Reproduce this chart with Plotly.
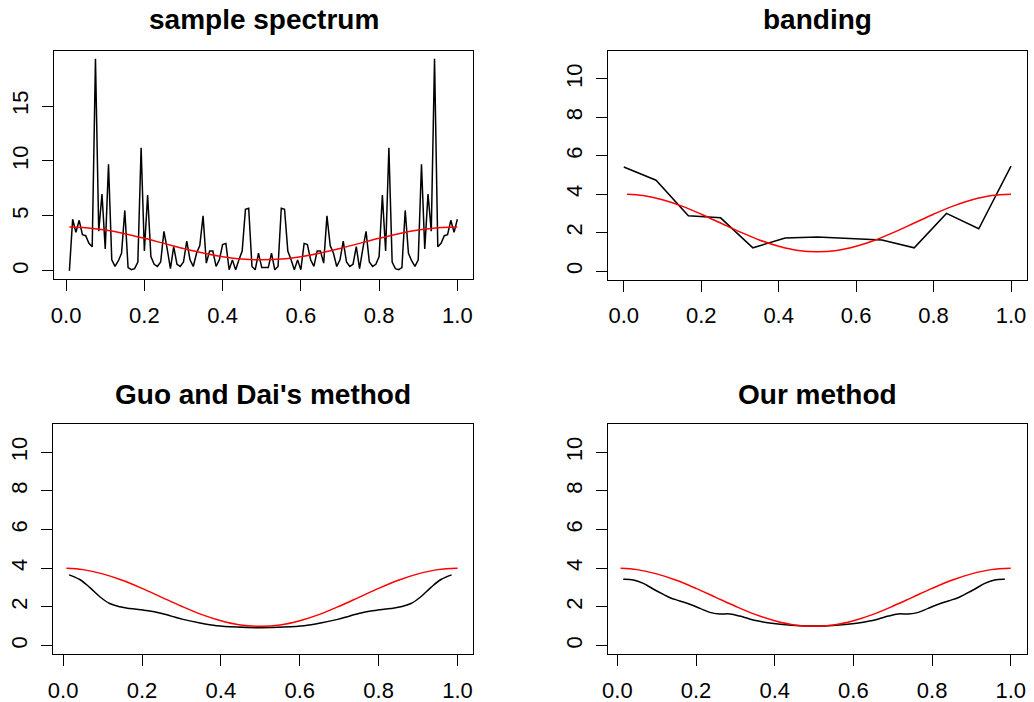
import numpy as np
import plotly.graph_objects as go

W, H = 1034, 702

# ---------------- data ----------------
# sample spectrum (periodogram) at Fourier frequencies k/120, k = 1..120
spec_k = list(range(1, 121))
spec_vals = [0, 4.7, 3.5, 4.6, 3.3, 3.2, 2.5, 2.2, 19.3, 3.6, 7.0, 2.0, 9.7, 1.0, 0.4,
             0.9, 1.6, 5.5, 0.3, 0.1, 0.2, 0.8, 11.2, 1.8, 6.9, 1.3, 0.6, 0.4, 0.8, 3.6,
             2.0, 0.2, 2.2, 0.6, 0.4, 0.8, 2.7, 1.0, 0.4, 1.6, 2.3, 5.0, 0.7, 1.8, 1.8,
             0.4, 1.0, 2.4, 2.5, 0.1, 1.0, 0.1, 1.0, 1.8, 5.6, 5.7, 0.4, 0.1, 1.6, 0.3,
             0.3, 0.3, 1.6, 0.1, 0.4, 5.7, 5.6, 1.8, 1.0, 0.1, 1.0, 0.1, 2.5, 2.4, 1.0,
             0.4, 1.8, 1.8, 0.7, 5.0, 2.3, 1.6, 0.4, 1.0, 2.7, 0.8, 0.4, 0.6, 2.2, 0.2,
             2.0, 3.6, 0.8, 0.4, 0.6, 1.3, 6.9, 1.8, 11.2, 0.8, 0.2, 0.1, 0.3, 5.5, 1.6,
             0.9, 0.4, 1.0, 9.7, 2.0, 7.0, 3.6, 19.3, 2.2, 2.5, 3.2, 3.3, 4.6, 3.5, 4.7]

# true spectrum (red curve)
true_x = [0.0083, 0.05, 0.1, 0.15, 0.2, 0.25, 0.3, 0.35, 0.4, 0.45, 0.5,
          0.55, 0.6, 0.65, 0.7, 0.75, 0.8, 0.85, 0.9, 0.95, 1.0]
true_y = [4.0, 3.93, 3.71, 3.38, 2.96, 2.5, 2.04, 1.62, 1.29, 1.07, 1.0,
          1.07, 1.29, 1.62, 2.04, 2.5, 2.96, 3.38, 3.71, 3.93, 4.0]

# banding estimator
band_x = [0, 1/12, 2/12, 3/12, 4/12, 5/12, 6/12, 7/12, 8/12, 9/12, 10/12, 11/12, 1]
band_y = [5.42, 4.73, 2.88, 2.77, 1.21, 1.72, 1.77, 1.70, 1.61, 1.21, 3.0, 2.20, 5.46]

# Guo and Dai's method
gd_x = [0.015, 0.042, 0.068, 0.093, 0.118, 0.144, 0.169, 0.203, 0.237, 0.271, 0.304,
        0.347, 0.389, 0.44, 0.5, 0.56, 0.611, 0.653, 0.696, 0.729, 0.763, 0.797,
        0.831, 0.856, 0.882, 0.907, 0.932, 0.958, 0.985]
gd_y = [3.66, 3.42, 3.0, 2.53, 2.18, 2.01, 1.92, 1.84, 1.73, 1.55, 1.36,
        1.17, 1.03, 0.96, 0.93, 0.96, 1.03, 1.17, 1.36, 1.55, 1.73, 1.84,
        1.92, 2.01, 2.18, 2.53, 3.0, 3.42, 3.66]

# Our method
our_x = [0.015, 0.041, 0.066, 0.091, 0.117, 0.134, 0.159, 0.184, 0.21, 0.235, 0.26,
         0.286, 0.311, 0.336, 0.362, 0.387, 0.421, 0.463, 0.5, 0.537, 0.579, 0.613,
         0.638, 0.664, 0.689, 0.714, 0.74, 0.765, 0.79, 0.816, 0.841, 0.866, 0.883,
         0.909, 0.934, 0.959, 0.985]
our_y = [3.43, 3.40, 3.22, 2.93, 2.65, 2.48, 2.31, 2.14, 1.93, 1.72, 1.64,
         1.64, 1.53, 1.38, 1.26, 1.17, 1.09, 1.03, 1.02, 1.03, 1.09, 1.17,
         1.26, 1.38, 1.53, 1.64, 1.64, 1.72, 1.93, 2.14, 2.31, 2.48, 2.65,
         2.93, 3.22, 3.40, 3.43]

titles = ["sample spectrum", "banding", "Guo and Dai's method", "Our method"]
x_ticks = [0.0, 0.2, 0.4, 0.6, 0.8, 1.0]
x_ticklabels = ["0.0", "0.2", "0.4", "0.6", "0.8", "1.0"]
y_ticks_spec = [0, 5, 10, 15]
y_ticks_est = [0, 2, 4, 6, 8, 10]

# ---------------- layout (pixel boxes) ----------------
boxes = [  # x0, x1, y0(top), y1(bottom)
    (54.0, 473.0, 50.7, 279.3),
    (608.3, 1026.5, 51.3, 279.5),
    (53.3, 473.3, 424.3, 654.2),
    (608.3, 1026.5, 424.3, 654.2),
]
xranges = [[-0.031, 1.040], [-0.04, 1.04], [-0.025, 1.040], [-0.023, 1.040]]
yranges = [[-0.77, 20.04], [-0.44, 11.44], [-0.44, 11.44], [-0.44, 11.44]]
yticks = [y_ticks_spec, y_ticks_est, y_ticks_est, y_ticks_est]

FONT = "Liberation Sans, Arial, Helvetica, sans-serif"
fig = go.Figure()

spec_x = [k / 120 for k in spec_k]
series = [
    [(spec_x, spec_vals, "black", "linear"), (true_x, true_y, "red", "spline")],
    [(band_x, band_y, "black", "linear"), (true_x, true_y, "red", "spline")],
    [(gd_x, gd_y, "black", "spline"), (true_x, true_y, "red", "spline")],
    [(our_x, our_y, "black", "spline"), (true_x, true_y, "red", "spline")],
]

annotations = []
for i in range(4):
    sfx = "" if i == 0 else str(i + 1)
    for xs, ys, col, shape in series[i]:
        fig.add_trace(go.Scatter(
            x=xs, y=ys, mode="lines",
            line=dict(color=col, width=1.5, shape=shape),
            xaxis="x" + sfx, yaxis="y" + sfx, showlegend=False, hoverinfo="skip"))
    x0, x1, y0, y1 = boxes[i]
    common = dict(showline=True, mirror=True, linecolor="black", linewidth=1.3,
                  ticks="outside", ticklen=11, tickwidth=1.3, tickcolor="black",
                  showgrid=False, zeroline=False, automargin=False,
                  tickfont=dict(family=FONT, size=22, color="black"))
    fig.layout["xaxis" + sfx] = dict(
        domain=[x0 / W, x1 / W], anchor="y" + sfx, range=xranges[i],
        tickvals=x_ticks, ticktext=x_ticklabels, ticklabelstandoff=5, **common)
    fig.layout["yaxis" + sfx] = dict(
        domain=[1 - y1 / H, 1 - y0 / H], anchor="x" + sfx, range=yranges[i],
        tickvals=yticks[i], ticktext=[str(v) for v in yticks[i]],
        tickangle=-90, ticklabelstandoff=5, **common)
    ty = 20 if i < 2 else 394
    annotations.append(dict(
        text="<b>" + titles[i] + "</b>", x=(x0 + x1) / 2 / W, y=1 - ty / H,
        xref="paper", yref="paper", xanchor="center", yanchor="middle",
        showarrow=False, font=dict(family=FONT, size=28, color="black")))

fig.update_layout(
    template="none",
    width=W, height=H, margin=dict(l=0, r=0, t=0, b=0, pad=0),
    paper_bgcolor="white", plot_bgcolor="white",
    annotations=annotations, font=dict(family=FONT, color="black"))

fig.write_html("out.html")
